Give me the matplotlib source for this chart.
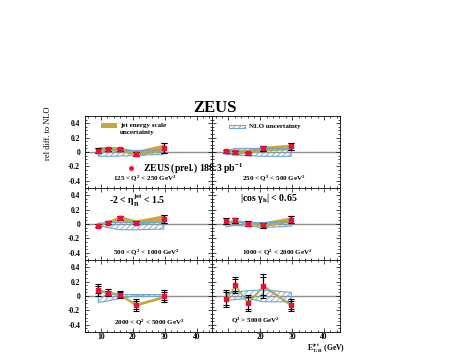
import matplotlib
matplotlib.use("Agg")
import matplotlib.pyplot as plt
from matplotlib.ticker import MultipleLocator, FixedLocator

plt.rcParams['font.family'] = ['Liberation Serif', 'DejaVu Serif']
plt.rcParams['font.weight'] = 'bold'
plt.rcParams['mathtext.fontset'] = 'custom'
plt.rcParams['mathtext.rm'] = 'Liberation Serif:bold'
plt.rcParams['mathtext.it'] = 'Liberation Serif:italic:bold'
plt.rcParams['mathtext.bf'] = 'Liberation Serif:bold'
plt.rcParams['hatch.linewidth'] = 0.6

# jet transverse energy bin centres (GeV)
et_jet = [9.2, 12.1, 16.0, 20.9, 29.7]

# relative difference data/NLO, one list per Q2 bin
rel_diff = [
    [0.02, 0.04, 0.04, -0.03, 0.06],
    [0.01, -0.005, -0.015, 0.05, 0.08],
    [-0.025, 0.015, 0.08, 0.02, 0.07],
    [0.04, 0.05, 0.005, -0.02, 0.06],
    [0.085, 0.045, 0.02, -0.125, 0.0],
    [-0.035, 0.15, -0.095, 0.14, -0.125],
]
err_stat = [
    [0.04, 0.02, 0.02, 0.03, 0.07],
    [0.02, 0.02, 0.02, 0.03, 0.05],
    [0.02, 0.02, 0.03, 0.02, 0.06],
    [0.04, 0.03, 0.03, 0.04, 0.05],
    [0.05, 0.03, 0.03, 0.05, 0.06],
    [0.09, 0.08, 0.08, 0.12, 0.06],
]
err_tot = [
    [0.04, 0.02, 0.02, 0.03, 0.07],
    [0.02, 0.02, 0.02, 0.03, 0.05],
    [0.02, 0.02, 0.03, 0.02, 0.06],
    [0.04, 0.03, 0.03, 0.04, 0.05],
    [0.08, 0.05, 0.05, 0.08, 0.085],
    [0.12, 0.11, 0.11, 0.17, 0.09],
]

# jet energy scale band
jes_hi = [
    [0.07, 0.08, 0.07, 0.02, 0.11],
    [0.03, 0.04, 0.04, 0.08, 0.11],
    [0.0, 0.045, 0.12, 0.055, 0.13],
    [0.05, 0.06, 0.04, 0.03, 0.10],
    [0.10, 0.07, 0.04, -0.10, 0.01],
    [-0.015, 0.17, -0.075, 0.16, -0.105],
]
jes_lo = [
    [-0.01, 0.01, 0.01, -0.05, 0.01],
    [-0.015, -0.025, -0.02, 0.015, 0.03],
    [-0.03, 0.01, 0.045, 0.0, 0.025],
    [0.02, 0.03, 0.0, -0.04, 0.03],
    [0.07, 0.04, 0.0, -0.14, -0.03],
    [-0.055, 0.13, -0.115, 0.12, -0.145],
]

# NLO uncertainty band
nlo_hi = [
    [0.03, 0.03, 0.03, 0.02, 0.03],
    [0.01, 0.05, 0.05, 0.05, 0.05],
    [0.01, 0.02, 0.02, 0.02, 0.02],
    [0.01, 0.02, 0.02, 0.02, 0.03],
    [0.07, 0.03, 0.02, 0.02, 0.02],
    [0.03, 0.05, 0.075, 0.085, 0.05],
]
nlo_lo = [
    [-0.06, -0.06, -0.055, -0.05, -0.03],
    [-0.03, -0.04, -0.05, -0.06, -0.06],
    [-0.02, -0.05, -0.08, -0.08, -0.07],
    [-0.04, -0.02, -0.03, -0.05, -0.03],
    [-0.09, -0.07, -0.03, 0.0, -0.01],
    [-0.06, -0.05, -0.035, -0.08, -0.08],
]

q2_labels = [
    r"125 < Q$^2$ < 250 GeV$^2$",
    r"250 < Q$^2$ < 500 GeV$^2$",
    r"500 < Q$^2$ < 1000 GeV$^2$",
    r"1000 < Q$^2$ < 2000 GeV$^2$",
    r"2000 < Q$^2$ < 5000 GeV$^2$",
    r"Q$^2$ > 5000 GeV$^2$",
]
q2_pos = [(23.9, -0.37), (24.2, -0.37), (24.4, -0.385),
          (25.3, -0.385), (25.2, -0.36), (18.4, -0.34)]

yellow = '#C8A83A'
hatch_col = '#6EA6D0'
red = '#E8103A'

fig = plt.figure(figsize=(4.6, 3.54), dpi=100)
x0, w = 85 / 460, 127.5 / 460
row_h = 72 / 354
axes = []
for i in range(6):
    r, c = divmod(i, 2)
    bottom = 1 - (116 + 72 * (r + 1)) / 354
    ax = fig.add_axes([x0 + c * w, bottom, w, row_h])
    axes.append(ax)

for i, ax in enumerate(axes):
    r, c = divmod(i, 2)
    ax.set_xlim(5, 45)
    ax.set_ylim(-0.5, 0.5)
    ax.axhline(0, color='#909090', lw=1.0, zorder=1)
    ax.fill_between(et_jet, jes_lo[i], jes_hi[i], color=yellow, lw=0, zorder=2)
    ax.fill_between(et_jet, nlo_lo[i], nlo_hi[i], facecolor='none',
                    edgecolor=hatch_col, hatch='//////', lw=0.8, zorder=3)
    ax.errorbar(et_jet, rel_diff[i], yerr=err_tot[i], fmt='none', ecolor='black',
                elinewidth=0.8, capsize=2, capthick=0.8, zorder=4)
    ax.errorbar(et_jet, rel_diff[i], yerr=err_stat[i], fmt='none', ecolor='black',
                elinewidth=0.8, capsize=2, capthick=0.8, zorder=4)
    ax.plot(et_jet, rel_diff[i], 's', color=red, ms=3, zorder=5)

    ax.text(q2_pos[i][0], q2_pos[i][1], q2_labels[i], ha='center', va='center',
            fontsize=5, fontweight='bold')

    ax.yaxis.set_major_locator(FixedLocator([-0.4, -0.2, 0, 0.2, 0.4]))
    ax.yaxis.set_minor_locator(MultipleLocator(0.05))
    ax.xaxis.set_major_locator(MultipleLocator(10))
    ax.xaxis.set_minor_locator(MultipleLocator(2))
    ax.tick_params(which='both', direction='in', top=True, right=True, width=0.5)
    ax.tick_params(which='major', length=3)
    ax.tick_params(which='minor', length=1.5)
    ax.tick_params(axis='x', pad=0.5)
    for s in ax.spines.values():
        s.set_linewidth(0.6)
    if c == 0:
        ax.set_yticklabels(['-0.4', '-0.2', '0', '0.2', '0.4'], fontsize=5.5)
    else:
        ax.set_yticklabels([])
    if r == 2:
        ax.set_xticks([10, 20, 30, 40])
        if c == 0:
            ax.set_xticklabels(['10', '20', '30', '40'], fontsize=5.5)
        else:
            ax.set_xticklabels(['', '20', '30', '40'], fontsize=5.5)
    else:
        ax.set_xticklabels([])

# legends
ax = axes[0]
ax.fill_between([9.9, 15.1], 0.33, 0.40, color=yellow, lw=0)
ax.text(16.0, 0.37, 'jet energy scale', fontsize=5, va='center')
ax.text(16.0, 0.27, 'uncertainty', fontsize=5, va='center')
ax.plot([19.5], [-0.22], 'o', color=red, ms=2.5)

ax = axes[1]
ax.fill_between([10.1, 15.3], 0.33, 0.38, facecolor='none', edgecolor=hatch_col,
                hatch='//////', lw=0.8)
ax.text(16.3, 0.36, 'NLO uncertainty', fontsize=5, va='center')

fig.text(143 / 460, 1 - 168 / 354, r'ZEUS (prel.) 188.3 pb$^{-1}$', fontsize=7,
         va='center', zorder=10)

axes[2].text(21.3, 0.32, r'-2 < η$_{\rm B}^{\rm jet}$ < 1.5', fontsize=7,
             ha='center', va='center')
axes[3].text(22.5, 0.35, r'|cos γ$_{\rm h}$| < 0.65', fontsize=7,
             ha='center', va='center')

fig.text(215 / 460, 1 - 108 / 354, 'ZEUS', fontsize=12, fontweight='bold',
         ha='center', va='center')
fig.text(48 / 460, 1 - 133 / 354, 'rel diff. to NLO', fontsize=6,
         fontweight='normal', rotation=90, ha='center', va='center')
fig.text(345 / 460, 0.001, r'E$_{\rm T,B}^{\rm jet}$ (GeV)', fontsize=5.5,
         ha='right', va='bottom')

fig.savefig('out.png', dpi=100)
